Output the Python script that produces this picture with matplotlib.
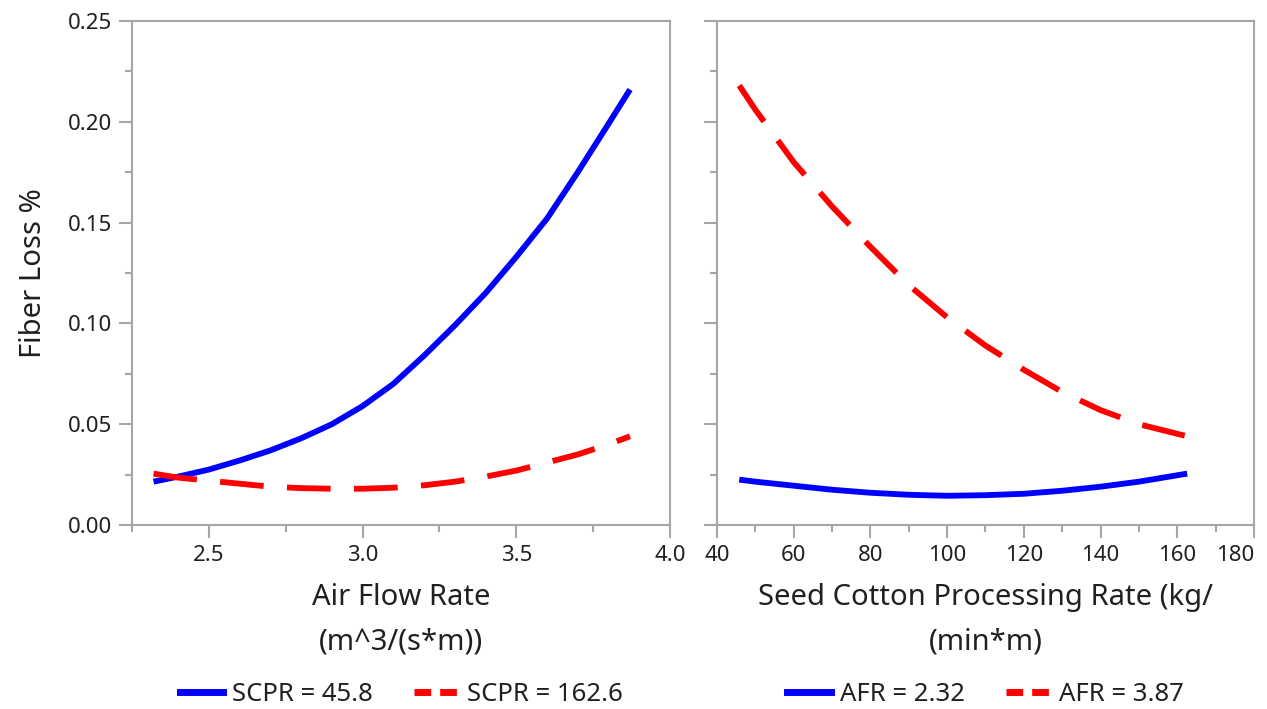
import numpy as np
import matplotlib
matplotlib.use("Agg")
import matplotlib.pyplot as plt
from matplotlib.lines import Line2D

plt.rcParams['font.family'] = ['Noto Sans', 'DejaVu Sans']

# left panel: fiber loss vs air flow rate
afr_x = [2.32, 2.4, 2.5, 2.6, 2.7, 2.8, 2.9, 3.0, 3.1, 3.2, 3.3, 3.4, 3.5, 3.6, 3.7, 3.8, 3.87]
afr_scpr_low = [0.0215, 0.024, 0.0275, 0.032, 0.037, 0.043, 0.050, 0.059, 0.070, 0.084, 0.099,
                0.115, 0.133, 0.152, 0.175, 0.199, 0.216]
afr_scpr_high = [0.0255, 0.0235, 0.022, 0.0205, 0.019, 0.0183, 0.018, 0.018, 0.0185, 0.0197,
                 0.0215, 0.024, 0.027, 0.031, 0.035, 0.040, 0.044]

# right panel: fiber loss vs seed cotton processing rate
scpr_x = [45.8, 50, 60, 70, 80, 90, 100, 110, 120, 130, 140, 150, 162.6]
scpr_afr_low = [0.0225, 0.0215, 0.0195, 0.0175, 0.016, 0.015, 0.0145, 0.0148, 0.0155, 0.017,
                0.019, 0.0215, 0.0255]
scpr_afr_high = [0.218, 0.206, 0.180, 0.158, 0.138, 0.119, 0.103, 0.089, 0.077, 0.066, 0.057,
                 0.050, 0.044]

left_legend = ['SCPR = 45.8', 'SCPR = 162.6']
right_legend = ['AFR = 2.32', 'AFR = 3.87']

blue = '#0000ff'
red = '#ff0000'
grey = '#a6a6a6'
txt = '#202020'
dash = (0, (7.5, 4))

fig = plt.figure(figsize=(12.67, 7.09), dpi=100)
ax1 = fig.add_axes([0.1042, 0.2595, 0.4246, 0.7109])
ax2 = fig.add_axes([0.5659, 0.2595, 0.4238, 0.7109])

ax1.plot(afr_x, afr_scpr_low, color=blue, lw=4.2, solid_capstyle='butt')
ax1.plot(afr_x, afr_scpr_high, color=red, lw=4.2, linestyle=dash)
ax2.plot(scpr_x, scpr_afr_low, color=blue, lw=4.2, solid_capstyle='butt')
ax2.plot(scpr_x, scpr_afr_high, color=red, lw=4.2, linestyle=dash)

ax1.set_xlim(2.25, 4.0)
ax1.set_xticks([2.5, 3.0, 3.5, 4.0])
ax1.set_xticklabels(['2.5', '3.0', '3.5', '4.0'])
ax1.set_xticks([2.25, 2.75, 3.25, 3.75], minor=True)
ax2.set_xlim(40, 180)
ax2.set_xticks(np.arange(40, 181, 20))
ax2.set_xticks(np.arange(50, 180, 20), minor=True)

for ax in (ax1, ax2):
    ax.set_ylim(0, 0.25)
    ax.set_yticks(np.arange(0, 0.26, 0.05))
    ax.set_yticks(np.arange(0.025, 0.25, 0.05), minor=True)
    for s in ax.spines.values():
        s.set_color(grey)
        s.set_linewidth(1.5)
    ax.tick_params(which='major', length=9.5, width=1.5, color=grey, labelsize=16,
                   labelcolor=txt, pad=5)
    ax.tick_params(which='minor', length=5, width=1.5, color=grey)

ax1.set_yticklabels(['0.00', '0.05', '0.10', '0.15', '0.20', '0.25'])
ax2.tick_params(axis='y', labelleft=False)
# last label would run off the figure edge: pull it inside like the original
ax2.get_xticklabels()[-1].set_horizontalalignment('right')
ax2.get_xticklabels()[-1].set_x(181)

ax1.set_ylabel('Fiber Loss %', fontsize=21, labelpad=14, color=txt)
ax1.set_xlabel('Air Flow Rate\n(m^3/(s*m))', fontsize=21, labelpad=12, linespacing=1.7, color=txt)
ax2.set_xlabel('Seed Cotton Processing Rate (kg/\n(min*m)', fontsize=21, labelpad=12,
               linespacing=1.7, color=txt)

handles = [Line2D([], [], color=blue, lw=5), Line2D([], [], color=red, lw=5, linestyle=(0, (2.4, 1.3)))]
for labels, cx in ((left_legend, 0.3167), (right_legend, 0.7778)):
    leg = fig.legend(handles, labels, loc='center', bbox_to_anchor=(cx, 0.02), ncol=2, frameon=False,
                     fontsize=18.5, handlelength=1.7, handletextpad=0.35, columnspacing=1.6,
                     borderpad=0.2)
    for t in leg.get_texts():
        t.set_color(txt)

fig.savefig('out.png', dpi=100)
